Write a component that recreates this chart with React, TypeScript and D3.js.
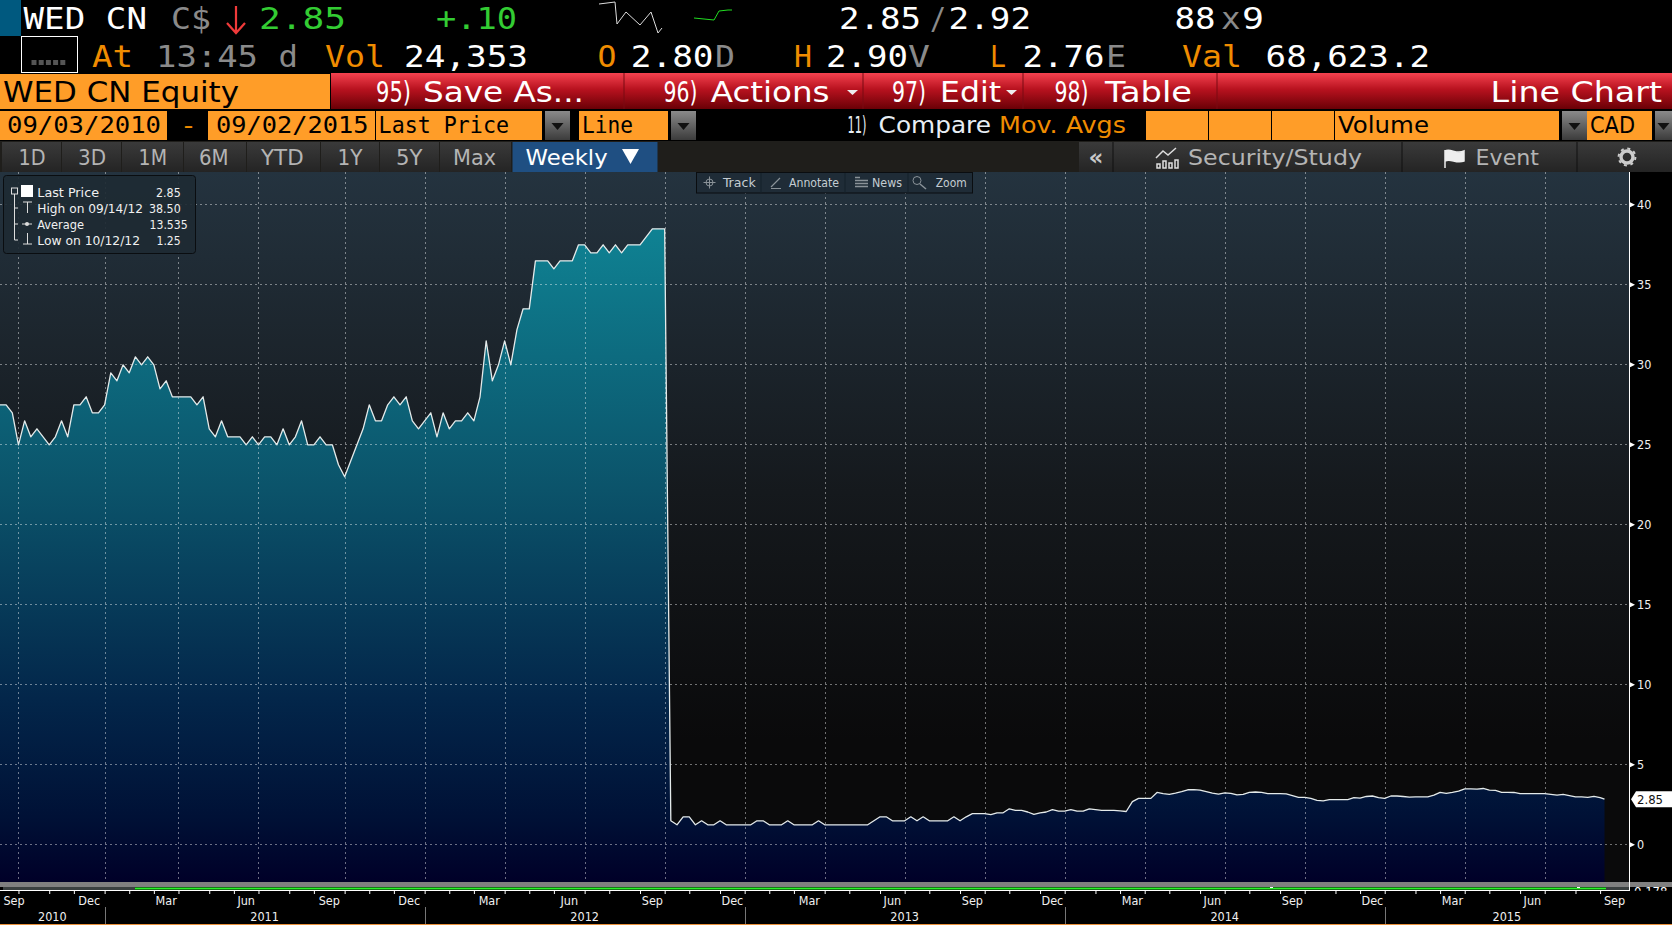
import { useEffect, useRef } from 'react';
import * as d3 from 'd3';

// weekly closes, first week 09/03/2010
const lastPrice = [
  27.5, 27.5, 27, 25, 26.5, 25.5, 26, 25.5, 25, 25.5,
  26.5, 25.5, 27.5, 27.5, 28, 27, 27, 27.5, 29.5, 29,
  30, 29.5, 30.5, 30, 30.5, 30, 28.5, 29, 28, 28,
  28, 28, 27.5, 28, 26, 25.5, 26.5, 25.5, 25.5, 25.5,
  25, 25.5, 25, 25.5, 25.5, 25, 26, 25, 25.5, 26.5,
  25, 25, 25.5, 25, 25, 23.75, 23, 24, 25, 26,
  27.5, 26.5, 26.5, 27.5, 28, 27.5, 28, 26.5, 26, 26.5,
  27, 25.5, 27, 26, 26.5, 26.5, 27, 26.5, 28, 31.5,
  29, 30, 31.5, 30, 32.2, 33.5, 33.5, 36.5, 36.5, 36.5,
  36, 36.5, 36.5, 36.5, 37.5, 37.5, 37, 37, 37.5, 37,
  37.5, 37, 37.5, 37.5, 37.5, 38, 38.5, 38.5, 38.5, 1.5,
  1.25, 1.75, 1.75, 1.25, 1.5, 1.25, 1.25, 1.5, 1.25, 1.25,
  1.25, 1.25, 1.25, 1.5, 1.5, 1.25, 1.25, 1.25, 1.5, 1.25,
  1.25, 1.25, 1.25, 1.5, 1.25, 1.25, 1.25, 1.25, 1.25, 1.25,
  1.25, 1.25, 1.5, 1.75, 1.75, 1.5, 1.5, 1.5, 1.75, 1.5,
  1.75, 1.5, 1.5, 1.5, 1.5, 1.75, 1.5, 1.75, 1.95, 1.95,
  1.95, 1.88, 2, 2, 2.25, 2.15, 2.15, 2.05, 1.9, 2,
  2.05, 2.2, 2.1, 2.1, 2.2, 2.1, 2.1, 2.25, 2.2, 2.15,
  2.15, 2.15, 2.12, 2.08, 2.7, 2.9, 2.9, 2.9, 3.27, 3.2,
  3.15, 3.23, 3.33, 3.44, 3.45, 3.42, 3.33, 3.23, 3.17, 3.25,
  3.22, 3.12, 3.15, 3.28, 3.3, 3.28, 3.2, 3.2, 3.2, 3.18,
  3.08, 2.97, 2.97, 2.9, 2.78, 2.75, 2.82, 2.82, 2.82, 2.82,
  2.95, 2.92, 3.02, 3.05, 2.95, 2.9, 3.05, 3.05, 3.02, 2.98,
  3, 3, 3, 3.1, 3.28, 3.22, 3.28, 3.35, 3.5, 3.5,
  3.48, 3.52, 3.42, 3.4, 3.28, 3.28, 3.27, 3.2, 3.2, 3.2,
  3.2, 3.2, 3.15, 3.1, 3.15, 3.08, 3, 3, 2.97, 3.02,
  2.95, 2.85,
];

const startDate = new Date(Date.UTC(2010, 8, 3));
const endDate = new Date(Date.UTC(2015, 8, 2));
const yTicks = [0, 5, 10, 15, 20, 25, 30, 35, 40];
const monthNames = ['Jan', 'Feb', 'Mar', 'Apr', 'May', 'Jun', 'Jul', 'Aug', 'Sep', 'Oct', 'Nov', 'Dec'];
const years = [2010, 2011, 2012, 2013, 2014, 2015];

const MONO = "'DejaVu Sans Mono', monospace";
const SANS = "'DejaVu Sans', sans-serif";
const COND = "'DejaVu Sans Condensed', 'DejaVu Sans', sans-serif";
const ORANGE_TXT = '#f08c00';
const ORANGE = '#ff9d28';
const GREY = '#8a8a8a';
const GREEN = '#33cc33';

const plotRight = 1629;
const plotTop = 172;
const plotBottom = 882;

type TProps = { a: number; b: number; y: number; s: string; size: number; fill: string; font?: string };

// text stretched to span a to b, the terminal font is wider than anything installed
function T({ a, b, y, s, size, fill, font = MONO }: TProps) {
  return (
    <text x={a} y={y} fontSize={size} fontFamily={font} fill={fill} textLength={b - a} lengthAdjust="spacingAndGlyphs">
      {s}
    </text>
  );
}

function Btn({ x, w }: { x: number; w: number }) {
  return (
    <g>
      <rect x={x} y={111} width={w} height={29} fill="url(#btnGrad)" />
      <path d={`M${x + w / 2 - 6},123 h12 l-6,7 z`} fill="#111" />
    </g>
  );
}

export default function App() {
  const plotRef = useRef<SVGGElement>(null);

  useEffect(() => {
    if (!plotRef.current) return;
    const g = d3.select(plotRef.current);
    g.selectAll('*').remove();

    const dates = [...d3.utcFriday.range(startDate, endDate), endDate];
    const data = dates.map((date, i) => ({ date, value: lastPrice[i] }));

    const x = d3.scaleUtc().domain([startDate, endDate]).range([0, 1604.5]);
    const y = d3.scaleLinear().domain([0, 40]).range([844.8, 204.8]);

    // last friday of every month carries the tick
    const months = d3.utcMonth.range(d3.utcMonth.floor(startDate), d3.utcMonth.floor(endDate));
    const monthEnds = months.map(m => d3.utcFriday.floor(new Date(d3.utcMonth.offset(m, 1).getTime() - 1)));
    const quarterEnds = monthEnds.filter(d => (d.getUTCMonth() + 1) % 3 === 0);
    const yearEnds = monthEnds.filter(d => d.getUTCMonth() === 11);

    const area = d3.area<{ date: Date; value: number }>()
      .x(d => x(d.date))
      .y0(plotBottom)
      .y1(d => y(d.value));
    const line = d3.line<{ date: Date; value: number }>()
      .x(d => x(d.date))
      .y(d => y(d.value));

    g.append('path').datum(data).attr('fill', 'url(#areaGrad)').attr('d', area);

    // dotted grid
    const grid = g.append('g')
      .attr('stroke', 'rgba(255,255,255,0.42)')
      .attr('stroke-width', 1)
      .attr('stroke-dasharray', '2 3');
    grid.selectAll('line.h').data(yTicks).enter().append('line')
      .attr('x1', 0).attr('x2', plotRight)
      .attr('y1', d => Math.floor(y(d)) + 0.5).attr('y2', d => Math.floor(y(d)) + 0.5);
    grid.selectAll('line.v').data(quarterEnds).enter().append('line')
      .attr('x1', d => Math.round(x(d)) + 0.5).attr('x2', d => Math.round(x(d)) + 0.5)
      .attr('y1', plotTop).attr('y2', plotBottom);

    g.append('path').datum(data)
      .attr('fill', 'none')
      .attr('stroke', '#e4eaea')
      .attr('stroke-width', 1.3)
      .attr('stroke-linejoin', 'round')
      .attr('d', line);

    // x axis, ticks only
    const xAxis = g.append('g')
      .attr('transform', 'translate(0,890)')
      .call(d3.axisBottom(x).tickValues(monthEnds).tickSize(4).tickFormat(() => '') as any);
    xAxis.select('.domain').remove();
    xAxis.selectAll('line').attr('stroke', '#fff');

    // y axis
    const yAxis = g.append('g')
      .attr('transform', `translate(${plotRight},0)`)
      .call(d3.axisRight(y).tickValues(yTicks).tickSize(0).tickPadding(8) as any);
    yAxis.select('.domain').remove();
    yAxis.selectAll('text')
      .attr('fill', '#f0f0f0')
      .attr('font-size', 12.5)
      .attr('font-family', COND);
    g.selectAll('path.ytri').data(yTicks).enter().append('path')
      .attr('class', 'ytri')
      .attr('fill', '#fff')
      .attr('d', d => `M${plotRight},${y(d) - 3} L${plotRight + 6},${y(d)} L${plotRight},${y(d) + 3} Z`);

    g.append('line').attr('x1', 0).attr('x2', plotRight).attr('y1', 890.5).attr('y2', 890.5).attr('stroke', '#fff');
    g.append('line').attr('x1', plotRight + 0.5).attr('x2', plotRight + 0.5).attr('y1', plotTop).attr('y2', 891).attr('stroke', '#fff');

    // month labels sit in the middle of the month they name
    const quarterLabels = monthEnds
      .map((d, i) => ({ d, prev: i > 0 ? x(monthEnds[i - 1]) : 0, cur: x(d) }))
      .filter(t => (t.d.getUTCMonth() + 1) % 3 === 0)
      .map(t => ({ label: monthNames[t.d.getUTCMonth()], pos: Math.max(14, (t.prev + t.cur) / 2) }));
    quarterLabels.push({ label: 'Sep', pos: (x(monthEnds[monthEnds.length - 1]) + plotRight) / 2 });
    g.selectAll('text.mon').data(quarterLabels).enter().append('text')
      .attr('class', 'mon')
      .attr('x', d => d.pos).attr('y', 905)
      .attr('text-anchor', 'middle')
      .attr('fill', '#f0f0f0')
      .attr('font-size', 12.5)
      .attr('font-family', COND)
      .text(d => d.label);

    const yearEdges = [0, ...yearEnds.map(d => x(d)), plotRight];
    g.selectAll('text.yr').data(years).enter().append('text')
      .attr('class', 'yr')
      .attr('x', (_, i) => (yearEdges[i] + yearEdges[i + 1]) / 2).attr('y', 920.5)
      .attr('text-anchor', 'middle')
      .attr('fill', '#f0f0f0')
      .attr('font-size', 12.5)
      .attr('font-family', COND)
      .text(d => d);
    g.selectAll('line.yd').data(yearEnds).enter().append('line')
      .attr('x1', d => Math.round(x(d)) + 0.5).attr('x2', d => Math.round(x(d)) + 0.5)
      .attr('y1', 907).attr('y2', 924)
      .attr('stroke', '#777');

    // last value tag
    const lastY = y(lastPrice[lastPrice.length - 1]);
    g.append('path')
      .attr('fill', '#fff')
      .attr('d', `M1631,${lastY} L1636,${lastY - 8} H1672 V${lastY + 8} H1636 Z`);
    g.append('text')
      .attr('x', 1637).attr('y', lastY + 4.5)
      .attr('fill', '#111')
      .attr('font-size', 13)
      .attr('font-family', COND)
      .text(lastPrice[lastPrice.length - 1].toFixed(2));
  }, []);

  return (
    <svg width={1672} height={925} style={{ position: 'absolute', left: 0, top: 0, display: 'block', background: '#000' }}>
      <defs>
        <linearGradient id="redGrad" x1="0" x2="0" y1="0" y2="1">
          <stop offset="0%" stopColor="#f4424f" />
          <stop offset="45%" stopColor="#b8121f" />
          <stop offset="100%" stopColor="#6a0006" />
        </linearGradient>
        <linearGradient id="btnGrad" x1="0" x2="0" y1="0" y2="1">
          <stop offset="0%" stopColor="#8a8a8a" />
          <stop offset="100%" stopColor="#3c3c3c" />
        </linearGradient>
        <linearGradient id="tabGrad" x1="0" x2="0" y1="0" y2="1">
          <stop offset="0%" stopColor="#3a3a3a" />
          <stop offset="100%" stopColor="#242424" />
        </linearGradient>
        <linearGradient id="bgGrad" gradientUnits="userSpaceOnUse" x1="0" x2="0" y1="172" y2="882">
          <stop offset="0%" stopColor="#24333f" />
          <stop offset="45%" stopColor="#15191d" />
          <stop offset="80%" stopColor="#0a0a0b" />
          <stop offset="100%" stopColor="#0a0a0b" />
        </linearGradient>
        <linearGradient id="areaGrad" gradientUnits="userSpaceOnUse" x1="0" x2="0" y1="229" y2="882">
          <stop offset="0%" stopColor="#0f8293" />
          <stop offset="40%" stopColor="#0b536a" />
          <stop offset="72%" stopColor="#03264a" />
          <stop offset="90%" stopColor="#001136" />
          <stop offset="100%" stopColor="#000028" />
        </linearGradient>
        <clipPath id="stubClip">
          <rect x={1631} y={886.7} width={41} height={4} />
        </clipPath>
      </defs>

      {/* quote rows */}
      <rect x={0} y={0} width={21} height={36} fill="#00597f" />
      <T a={23.5} b={147} y={29} s="WED CN" size={31} fill="#fff" />
      <T a={171} b={211} y={29} s="C$" size={31} fill={GREY} />
      <path d="M236,6 V32 M227,23 L236,33 L245,23" fill="none" stroke="#f03a3a" strokeWidth={2.2} />
      <T a={259} b={346} y={29} s="2.85" size={31} fill={GREEN} />
      <T a={436} b={517} y={29} s="+.10" size={31} fill={GREEN} />
      <path d="M599,4 L615,2 L617,24 L626,12 L640,25 L651,12 L658,33 L662,28" fill="none" stroke="#ddd" strokeWidth={1} />
      <path d="M694,18 L714,20 L719,11 L728,10 L732,10" fill="none" stroke="#22dd22" strokeWidth={1} />
      <T a={839} b={921} y={29} s="2.85" size={31} fill="#fff" />
      <T a={930} b={946} y={29} s="/" size={31} fill={GREY} />
      <T a={948.6} b={1031} y={29} s="2.92" size={31} fill="#fff" />
      <T a={1174.5} b={1215.6} y={29} s="88" size={31} fill="#fff" />
      <T a={1221} b={1240.6} y={29} s="x" size={31} fill={GREY} />
      <T a={1242} b={1264} y={29} s="9" size={31} fill="#fff" />

      <rect x={21.5} y={36.5} width={56} height={36} fill="none" stroke="#fff" />
      {d3.range(5).map(i => (
        <rect key={i} x={31.5 + i * 7.2} y={60} width={5} height={5} fill="#555" />
      ))}
      <T a={92} b={133} y={67} s="At" size={31} fill={ORANGE_TXT} />
      <T a={156} b={258} y={67} s="13:45" size={31} fill={GREY} />
      <T a={278.5} b={298} y={67} s="d" size={31} fill={GREY} />
      <T a={325} b={385} y={67} s="Vol" size={31} fill={ORANGE_TXT} />
      <T a={404} b={528} y={67} s="24,353" size={31} fill="#fff" />
      <T a={597.5} b={616.4} y={67} s="O" size={31} fill={ORANGE_TXT} />
      <T a={630.7} b={713.6} y={67} s="2.80" size={31} fill="#fff" />
      <T a={715} b={735} y={67} s="D" size={31} fill={GREY} />
      <T a={794} b={812} y={67} s="H" size={31} fill={ORANGE_TXT} />
      <T a={826} b={908} y={67} s="2.90" size={31} fill="#fff" />
      <T a={908} b={930} y={67} s="V" size={31} fill={GREY} />
      <T a={990} b={1006} y={67} s="L" size={31} fill={ORANGE_TXT} />
      <T a={1022.5} b={1104.6} y={67} s="2.76" size={31} fill="#fff" />
      <T a={1106} b={1126} y={67} s="E" size={31} fill={GREY} />
      <T a={1182} b={1242} y={67} s="Val" size={31} fill={ORANGE_TXT} />
      <T a={1265.6} b={1430} y={67} s="68,623.2" size={31} fill="#fff" />

      {/* red menu bar */}
      <rect x={331} y={73} width={1341} height={36} fill="url(#redGrad)" />
      <rect x={0} y={74} width={330} height={35} fill={ORANGE} />
      <T a={3} b={239} y={102} s="WED CN Equity" size={29} fill="#000" font={SANS} />
      {[624, 863, 1023, 1217].map(sx => (
        <line key={sx} x1={sx} x2={sx} y1={73} y2={109} stroke="#7a0a12" />
      ))}
      <T a={376} b={411} y={102} s="95)" size={29} fill="#fff" font={SANS} />
      <T a={423} b={584} y={102} s="Save As..." size={29} fill="#fff" font={SANS} />
      <T a={663.6} b={697.5} y={102} s="96)" size={29} fill="#fff" font={SANS} />
      <T a={710.7} b={829.6} y={102} s="Actions" size={29} fill="#fff" font={SANS} />
      <path d="M847,90 h11 l-5.5,5 z" fill="#eee" />
      <T a={892} b={926} y={102} s="97)" size={29} fill="#fff" font={SANS} />
      <T a={940} b={1001} y={102} s="Edit" size={29} fill="#fff" font={SANS} />
      <path d="M1006,90 h11 l-5.5,5 z" fill="#eee" />
      <T a={1054.6} b={1088.6} y={102} s="98)" size={29} fill="#fff" font={SANS} />
      <T a={1105} b={1192} y={102} s="Table" size={29} fill="#fff" font={SANS} />
      <T a={1490.6} b={1662} y={102} s="Line Chart" size={29} fill="#fff" font={SANS} />

      {/* orange parameter row */}
      <rect x={0} y={111} width={167} height={29} fill={ORANGE} />
      <T a={180} b={197} y={133} s="-" size={23} fill={ORANGE_TXT} />
      <rect x={208} y={111} width={167} height={29} fill={ORANGE} />
      <rect x={376} y={111} width={166} height={29} fill={ORANGE} />
      <Btn x={545} w={25} />
      <rect x={579} y={111} width={89} height={29} fill={ORANGE} />
      <Btn x={671} w={25} />
      <T a={7} b={161} y={133} s="09/03/2010" size={23} fill="#000" />
      <T a={216} b={368.6} y={133} s="09/02/2015" size={23} fill="#000" />
      <T a={378.6} b={509} y={133} s="Last Price" size={23} fill="#000" />
      <T a={582} b={633} y={133} s="Line" size={23} fill="#000" />
      <T a={847.5} b={866.4} y={133} s="11)" size={23} fill="#e8eef4" font={SANS} />
      <T a={878.6} b={991} y={133} s="Compare" size={23} fill="#e8eef4" font={SANS} />
      <T a={999} b={1126} y={133} s="Mov. Avgs" size={23} fill={ORANGE_TXT} font={SANS} />
      <rect x={1146} y={111} width={62} height={29} fill={ORANGE} />
      <rect x={1209} y={111} width={62} height={29} fill={ORANGE} />
      <rect x={1272} y={111} width={62} height={29} fill={ORANGE} />
      <rect x={1335} y={111} width={224} height={29} fill={ORANGE} />
      <T a={1338} b={1429} y={133} s="Volume" size={23} fill="#000" font={SANS} />
      <Btn x={1562} w={25} />
      <rect x={1587} y={111} width={65} height={29} fill={ORANGE} />
      <T a={1590} b={1635} y={133} s="CAD" size={23} fill="#000" font={SANS} />
      <Btn x={1655} w={17} />

      {/* range tabs */}
      <rect x={0} y={141} width={1672} height={31} fill="#1f1e1b" />
      {[
        { s: '1D', a: 18.6, b: 45.7, l: 2, r: 62 },
        { s: '3D', a: 78, b: 106, l: 62, r: 122 },
        { s: '1M', a: 138.6, b: 167, l: 122, r: 184 },
        { s: '6M', a: 199, b: 228.6, l: 184, r: 247 },
        { s: 'YTD', a: 261, b: 303.6, l: 247, r: 321 },
        { s: '1Y', a: 337.5, b: 362.5, l: 321, r: 380 },
        { s: '5Y', a: 396, b: 422.5, l: 380, r: 440 },
        { s: 'Max', a: 453, b: 496, l: 440, r: 512 },
      ].map(t => (
        <g key={t.s}>
          <rect x={t.l} y={142} width={t.r - t.l - 1} height={30} fill="url(#tabGrad)" />
          <T a={t.a} b={t.b} y={165} s={t.s} size={21} fill="#b4b4b4" font={SANS} />
        </g>
      ))}
      <rect x={512.5} y={142} width={145} height={30} fill="#1f4f82" />
      <T a={525.6} b={607.6} y={165} s="Weekly" size={21} fill="#fff" font={SANS} />
      <path d="M622,149 h17 l-8.5,15 z" fill="#fff" />
      <rect x={1079} y={142} width={593} height={30} fill="url(#tabGrad)" />
      <line x1={1113} x2={1113} y1={142} y2={172} stroke="#111" />
      <line x1={1402} x2={1402} y1={142} y2={172} stroke="#111" />
      <line x1={1577} x2={1577} y1={142} y2={172} stroke="#111" />
      <text x={1096} y={165} textAnchor="middle" fontSize={23} fontWeight="bold" fontFamily={SANS} fill="#c8c8c8">«</text>
      <path d="M1156,158 L1163,151 L1168,155 L1176,148 M1157,168 v-4 h3 v4 z M1163,168 v-7 h3 v7 z M1169,168 v-5 h3 v5 z M1175,168 v-8 h3 v8 z" fill="none" stroke="#ddd" strokeWidth={1.5} />
      <T a={1188} b={1362} y={165} s="Security/Study" size={21} fill="#b4b4b4" font={SANS} />
      <path d="M1445,150 V168 M1445,151 C1451,148 1456,155 1464,151 V161 C1456,164 1451,158 1445,161 Z" fill="#eee" stroke="#eee" strokeWidth={1.5} />
      <T a={1475.6} b={1539} y={165} s="Event" size={21} fill="#b4b4b4" font={SANS} />
      <circle cx={1627} cy={157} r={6} fill="none" stroke="#ccc" strokeWidth={3.4} />
      <circle cx={1627} cy={157} r={8.4} fill="none" stroke="#ccc" strokeWidth={2} strokeDasharray="3 3.6" />

      {/* plot */}
      <rect x={0} y={plotTop} width={plotRight} height={plotBottom - plotTop} fill="url(#bgGrad)" />
      <rect x={0} y={882} width={1672} height={5} fill="#808080" />
      <rect x={3} y={887} width={132} height={3} fill="#3a4040" />
      <rect x={135} y={887.5} width={1471} height={2} fill="#2af52a" />
      <rect x={1606} y={887} width={23} height={3} fill="#3a4040" />
      <rect x={1270} y={887} width={3} height={1} fill="#fff" />
      <rect x={1577} y={887} width={3} height={1} fill="#fff" />
      <text x={1634} y={896} fontSize={13} fontFamily={COND} fill="#fff" clipPath="url(#stubClip)">0.178</text>
      <g ref={plotRef} />
      <rect x={0} y={924} width={1672} height={1} fill="#e8903a" />

      {/* legend */}
      <rect x={3.5} y={175.5} width={192} height={78} rx={3} fill="#1e2a33" fillOpacity={0.92} stroke="#0a0d10" />
      <rect x={11.5} y={188} width={6} height={6} fill="none" stroke="#ddd" />
      <path d="M14.5,194 V240 H18 M14.5,208 H18 M14.5,224 H18" fill="none" stroke="#ddd" />
      <rect x={21} y={185} width={12} height={12} fill="#fff" />
      <path d="M23,202 h9 M27.5,202 V213" fill="none" stroke="#ddd" />
      <path d="M22,224 H32" fill="none" stroke="#ddd" />
      <circle cx={27} cy={224} r={2} fill="#ddd" />
      <path d="M23,244 h9 M27.5,233 V244" fill="none" stroke="#ddd" />
      <T a={37.3} b={99} y={197} s="Last Price" size={12} fill="#f0f0f0" font={COND} />
      <T a={156} b={180.7} y={197} s="2.85" size={12} fill="#f0f0f0" font={COND} />
      <T a={37.3} b={143} y={213} s="High on 09/14/12" size={12} fill="#f0f0f0" font={COND} />
      <T a={149} b={180.7} y={213} s="38.50" size={12} fill="#f0f0f0" font={COND} />
      <T a={37.3} b={84} y={229} s="Average" size={12} fill="#f0f0f0" font={COND} />
      <T a={149.5} b={187.7} y={229} s="13.535" size={12} fill="#f0f0f0" font={COND} />
      <T a={37.3} b={140} y={245} s="Low on 10/12/12" size={12} fill="#f0f0f0" font={COND} />
      <T a={156.5} b={180.7} y={245} s="1.25" size={12} fill="#f0f0f0" font={COND} />

      {/* floating chart toolbar */}
      <rect x={696.5} y={172.5} width={276} height={20.5} fill="#1f2c37" stroke="#0a0d10" />
      {[761, 845, 908].map(sx => (
        <line key={sx} x1={sx} x2={sx} y1={173} y2={193} stroke="#15202a" />
      ))}
      <circle cx={709.5} cy={182.5} r={3.5} fill="none" stroke="#8a9298" />
      <path d="M709.5,176.5 v12 M703.5,182.5 h12" stroke="#8a9298" />
      <T a={723} b={755.7} y={187} s="Track" size={12} fill="#c4ccd2" font={COND} />
      <path d="M771,187 L780,178 M771,188.5 h10" stroke="#8a9298" strokeWidth={1.2} />
      <T a={789} b={839} y={187} s="Annotate" size={12} fill="#c4ccd2" font={COND} />
      <path d="M855,177.5 h5 M855,180.5 h13 M855,183.5 h13 M855,186.5 h13" stroke="#8a9298" strokeWidth={1.4} />
      <T a={872} b={902} y={187} s="News" size={12} fill="#c4ccd2" font={COND} />
      <circle cx={917} cy={180.5} r={4} fill="none" stroke="#8a9298" />
      <path d="M920,184 L926,189" stroke="#8a9298" strokeWidth={1.5} />
      <T a={935.7} b={966.7} y={187} s="Zoom" size={12} fill="#c4ccd2" font={COND} />
    </svg>
  );
}
